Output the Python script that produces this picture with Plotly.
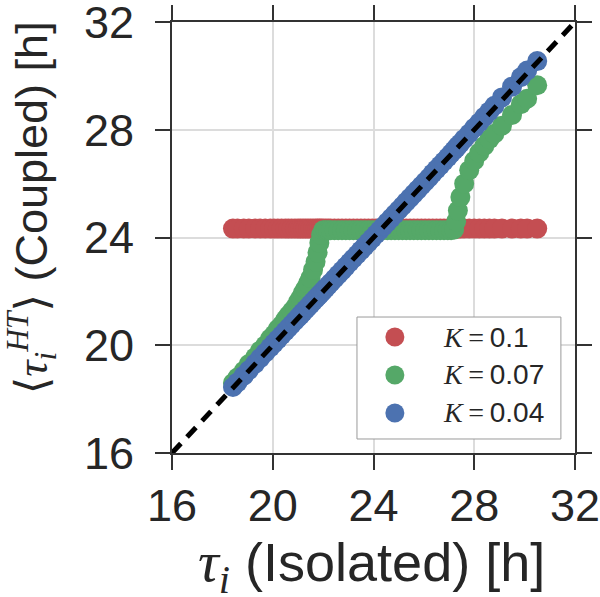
import plotly.graph_objects as go

# Isolated periods (x) shared by the three coupling strengths
tau_iso = [18.42, 18.6, 18.85, 19.05, 19.3, 19.5, 19.7, 19.9, 20.05, 20.2,
           20.35, 20.5, 20.62, 20.75, 20.88, 21.0, 21.1, 21.2, 21.3, 21.4,
           21.5, 21.6, 21.7, 21.78, 21.85, 21.92, 22.0, 22.1, 22.2, 22.3,
           22.45, 22.6, 22.75, 22.9, 23.05, 23.2, 23.35, 23.5, 23.65, 23.8,
           23.95, 24.1, 24.25, 24.4, 24.55, 24.7, 24.85, 25.0, 25.15, 25.3,
           25.45, 25.6, 25.75, 25.9, 26.05, 26.2, 26.35, 26.5, 26.65, 26.8,
           26.95, 27.08, 27.2, 27.28, 27.35, 27.45, 27.6, 27.8, 28.0, 28.2,
           28.4, 28.6, 28.8, 29.1, 29.5, 29.85, 30.1, 30.5]

# K = 0.1 : all locked to the common period
tau_k010 = [24.33, 24.33, 24.33, 24.33, 24.33, 24.33, 24.33, 24.33, 24.33, 24.33,
            24.33, 24.33, 24.33, 24.33, 24.33, 24.33, 24.33, 24.33, 24.33, 24.33,
            24.33, 24.33, 24.33, 24.33, 24.33, 24.33, 24.33, 24.33, 24.33, 24.33,
            24.33, 24.33, 24.33, 24.33, 24.33, 24.33, 24.33, 24.33, 24.33, 24.33,
            24.33, 24.33, 24.33, 24.33, 24.33, 24.33, 24.33, 24.33, 24.33, 24.33,
            24.33, 24.33, 24.33, 24.33, 24.33, 24.33, 24.33, 24.33, 24.33, 24.33,
            24.33, 24.33, 24.33, 24.33, 24.33, 24.33, 24.33, 24.33, 24.33, 24.33,
            24.33, 24.33, 24.33, 24.33, 24.33, 24.33, 24.33, 24.33]

# K = 0.07
tau_k007 = [18.6, 18.8, 19.05, 19.3, 19.55, 19.8, 20.0, 20.25, 20.4, 20.6,
            20.75, 20.95, 21.1, 21.25, 21.4, 21.6, 21.75, 21.95, 22.1, 22.3,
            22.5, 22.8, 23.1, 23.45, 23.8, 24.1, 24.27, 24.27, 24.27, 24.27,
            24.27, 24.27, 24.27, 24.27, 24.27, 24.27, 24.27, 24.27, 24.27, 24.27,
            24.27, 24.27, 24.27, 24.27, 24.27, 24.27, 24.27, 24.27, 24.27, 24.27,
            24.27, 24.27, 24.27, 24.27, 24.27, 24.27, 24.27, 24.27, 24.27, 24.27,
            24.27, 24.27, 24.3, 24.6, 25.0, 25.5, 26.0, 26.5, 26.85, 27.15,
            27.4, 27.65, 27.85, 28.15, 28.55, 28.95, 29.15, 29.65]

# K = 0.04
tau_k004 = [18.45, 18.62, 18.87, 19.07, 19.32, 19.52, 19.72, 19.92, 20.07, 20.22,
            20.37, 20.52, 20.64, 20.77, 20.9, 21.02, 21.12, 21.22, 21.32, 21.42,
            21.52, 21.62, 21.72, 21.8, 21.87, 21.94, 22.02, 22.12, 22.22, 22.32,
            22.47, 22.62, 22.77, 22.92, 23.07, 23.22, 23.37, 23.52, 23.67, 23.82,
            23.97, 24.12, 24.27, 24.42, 24.57, 24.72, 24.87, 25.02, 25.17, 25.32,
            25.47, 25.62, 25.77, 25.92, 26.07, 26.22, 26.38, 26.53, 26.68, 26.83,
            26.98, 27.12, 27.24, 27.32, 27.4, 27.5, 27.66, 27.86, 28.07, 28.27,
            28.48, 28.68, 28.89, 29.2, 29.6, 29.95, 30.2, 30.55]

labels = ["0.1", "0.07", "0.04"]
series = [tau_k010, tau_k007, tau_k004]
colors = ["#C44E52", "#55A868", "#4C72B0"]

diag = [16, 32]
ticks = [16, 20, 24, 28, 32]

FONT = "Liberation Sans, Arial, sans-serif"
SERIF = "Liberation Serif, DejaVu Serif, serif"
TXT = "#262626"

fig = go.Figure()
for lab, ys, col in zip(labels, series, colors):
    fig.add_trace(go.Scatter(
        x=tau_iso, y=ys, mode="markers",
        marker=dict(size=20, color=col, line=dict(width=0)),
        name="K = " + lab, showlegend=False,
    ))

fig.add_trace(go.Scatter(
    x=diag, y=diag, mode="lines",
    line=dict(color="black", width=5, dash="13px,9px"),
    showlegend=False, hoverinfo="skip", cliponaxis=True,
))

axis_common = dict(
    range=[16, 32], tickmode="array", tickvals=ticks, ticktext=[str(t) for t in ticks],
    showgrid=True, gridcolor="#dcdcdc", gridwidth=1.6,
    showline=True, linecolor="#333333", linewidth=2, mirror="ticks",
    ticks="outside", ticklen=15, tickwidth=2, tickcolor="#333333",
    tickfont=dict(family=FONT, size=45, color=TXT),
    zeroline=False, automargin=False, ticklabeloverflow="allow",
)

# manual legend (box, markers, texts) in plot-fraction coordinates
leg_box = dict(x0=0.459, x1=0.965, y0=0.0325, y1=0.3155)
leg_rows = [0.269, 0.181, 0.093]
leg_marker_x = 0.553
leg_text_x = 0.668

shapes = [dict(type="rect", xref="paper", yref="paper", **leg_box,
               line=dict(color="#9a9a9a", width=1), fillcolor="white", layer="above")]
annotations = []
for lab, col, yr in zip(labels, colors, leg_rows):
    shapes.append(dict(type="circle", xref="paper", yref="paper",
                       xsizemode="pixel", ysizemode="pixel",
                       xanchor=leg_marker_x, yanchor=yr,
                       x0=-9.5, x1=9.5, y0=-9.5, y1=9.5,
                       fillcolor=col, line=dict(width=0), layer="above"))
    annotations.append(dict(
        xref="paper", yref="paper", x=leg_text_x, y=yr, xanchor="left", yanchor="middle",
        showarrow=False,
        text=f'<span style="font-family:{SERIF}"><i>K</i>\u2009=\u2009</span>{lab}',
        font=dict(family=FONT, size=28, color=TXT),
    ))

annotations.append(dict(
    xref="paper", yref="paper", x=0.496, y=-0.262, xanchor="center", yanchor="middle",
    showarrow=False,
    text=f'<span style="font-family:{SERIF};font-size:58px"><i>τ<sub>i</sub></i></span> (Isolated) [h]',
    font=dict(family=FONT, size=54, color=TXT),
))
annotations.append(dict(
    xref="paper", yref="paper", x=-0.35, y=0.57, xanchor="center", yanchor="middle",
    showarrow=False, textangle=-90,
    text=f'<span style="font-family:{SERIF}">⟨<i>τ<sub>i</sub><sup>HT</sup></i>⟩</span> (Coupled) [h]',
    font=dict(family=FONT, size=45, color=TXT),
))

fig.update_layout(
    width=600, height=597,
    margin=dict(l=172, r=25, t=22, b=144),
    paper_bgcolor="white", plot_bgcolor="white",
    font=dict(family=FONT, color=TXT),
    xaxis=dict(**axis_common, ticklabelstandoff=-3),
    yaxis=dict(**axis_common, ticklabelstandoff=12),
    shapes=shapes, annotations=annotations, showlegend=False,
)

fig.write_html("out.html", config={"displayModeBar": False},
               post_script="document.body.style.margin='0';")
